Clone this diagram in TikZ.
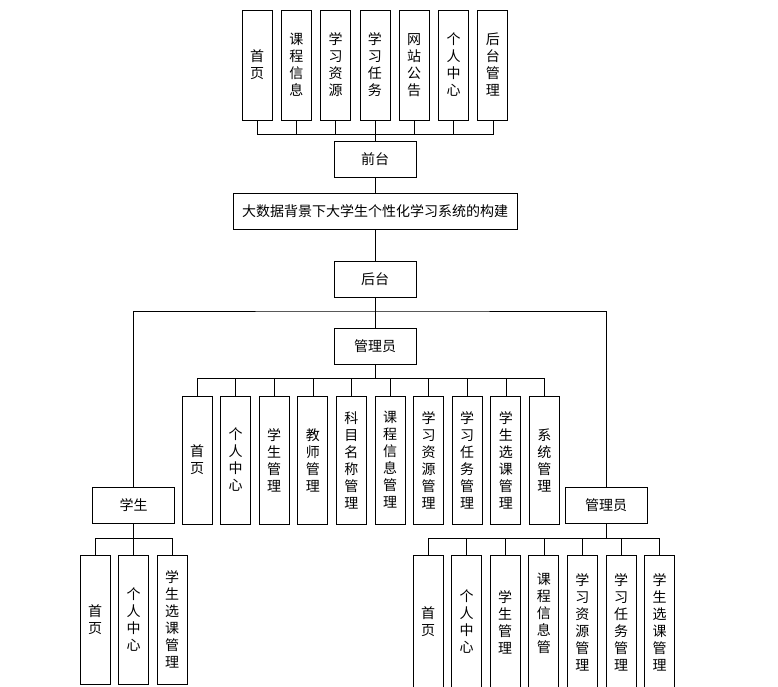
\documentclass[tikz,border=0pt]{standalone}
\usepackage{fontspec}
\setmainfont{Noto Sans CJK SC}
\usetikzlibrary{positioning,calc}

\tikzset{
  box/.style={draw, line width=0.8pt, minimum width=82pt, minimum height=36pt,
    inner sep=1pt, font=\fontsize{14pt}{17pt}\selectfont},
  col/.style={draw, line width=0.8pt, minimum width=30pt, inner sep=0pt,
    align=center, font=\fontsize{14pt}{17pt}\selectfont},
  link/.style={line width=0.6pt},
}

\begin{document}
\begin{tikzpicture}[x=1pt, y=1pt]
  \useasboundingbox (0,0) rectangle (778,-687);

  % top level
  \node[box] (front) at (375,-159) {前台};
  \node[box, minimum width=284pt] (sys) at (375,-211) {大数据背景下大学生个性化学习系统的构建};
  \node[box] (back) at (375,-279) {后台};
  \node[box] (admin) at (375,-346) {管理员};
  \node[box] (stu) at (133.5,-505.5) {学生};
  \node[box] (adm2) at (606,-505.5) {管理员};

  % front pages
  \foreach \i/\t in {1/首\\页, 2/课\\程\\信\\息, 3/学\\习\\资\\源, 4/学\\习\\任\\务,
                     5/网\\站\\公\\告, 6/个\\人\\中\\心, 7/后\\台\\管\\理}
    \node[col, minimum height=110pt] (t\i) at ({257+39.3*(\i-1)},-65) {\t};

  % admin pages
  \foreach \i/\t in {1/首\\页, 2/个\\人\\中\\心, 3/学\\生\\管\\理, 4/教\\师\\管\\理,
                     5/科\\目\\名\\称\\管\\理, 6/课\\程\\信\\息\\管\\理,
                     7/学\\习\\资\\源\\管\\理, 8/学\\习\\任\\务\\管\\理,
                     9/学\\生\\选\\课\\管\\理, 10/系\\统\\管\\理}
    \node[col, minimum height=128pt] (m\i) at ({197+38.6*(\i-1)},-460) {\t};

  % student pages
  \foreach \i/\t in {1/首\\页, 2/个\\人\\中\\心, 3/学\\生\\选\\课\\管\\理}
    \node[col, minimum height=129pt] (s\i) at ({95+38.5*(\i-1)},-619.5) {\t};

  % admin pages (bottom)
  \foreach \i/\t in {1/首\\页, 2/个\\人\\中\\心, 3/学\\生\\管\\理,
                     4/课\\程\\信\\息\\管\\\phantom{理},
                     5/学\\习\\资\\源\\管\\理, 6/学\\习\\任\\务\\管\\理,
                     7/学\\生\\选\\课\\管\\理}
    \node[col, minimum height=134pt] (a\i) at ({428+38.6*(\i-1)},-622) {\t};

  % buses
  \coordinate (fbus) at (375,-134);
  \coordinate (bbus) at (375,-311);
  \coordinate (mbus) at (375,-378);
  \coordinate (sbus) at (133.5,-538);
  \coordinate (abus) at (606,-538);

  \foreach \i in {1,...,7}
    \draw[link] (t\i.south) |- (fbus) -- (front);
  \draw[link] (front) -- (sys);
  \draw[link] (sys) -- (back);
  \draw[link] (back) -- (admin);
  \draw[link] (stu.north) |- (bbus) -| (adm2.north);
  \foreach \i in {1,...,10}
    \draw[link] (m\i.north) |- (mbus) -- (admin);
  \foreach \i in {1,...,3}
    \draw[link] (s\i.north) |- (sbus) -- (stu);
  \foreach \i in {1,...,7}
    \draw[link] (a\i.north) |- (abus) -- (adm2);
\end{tikzpicture}
\end{document}
